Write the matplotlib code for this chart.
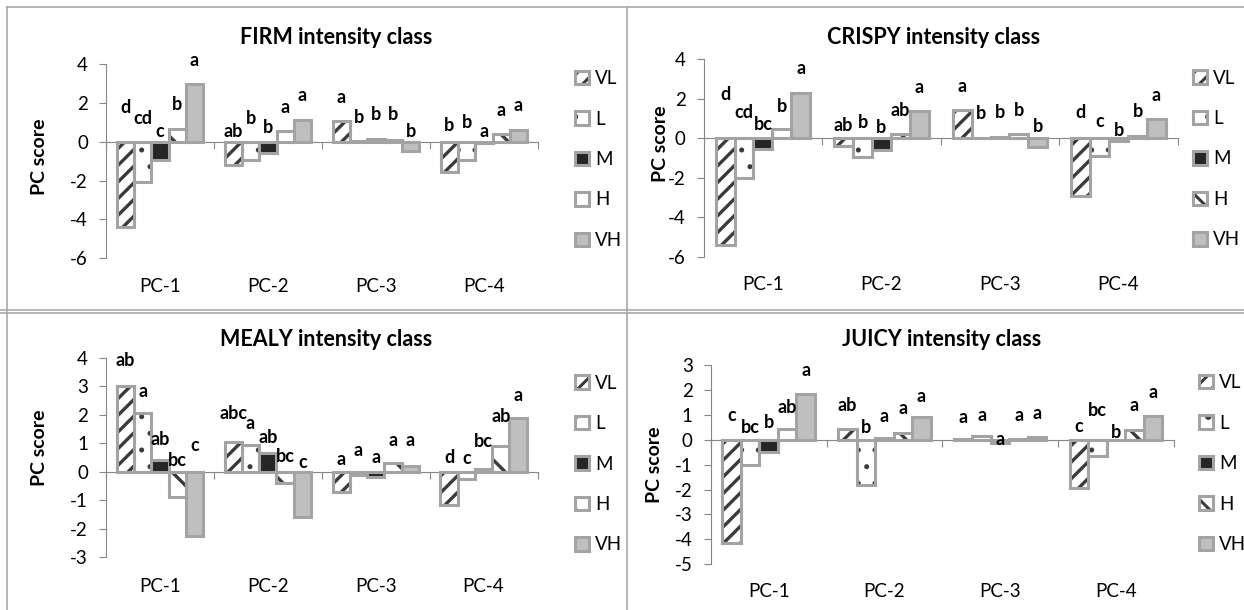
import numpy as np
import matplotlib.pyplot as plt
from matplotlib.patches import Patch
from matplotlib.lines import Line2D
from matplotlib.legend_handler import HandlerTuple

plt.rcParams['font.family'] = ['Lato', 'DejaVu Sans']
plt.rcParams['hatch.linewidth'] = 2.2

# categories and classes
components = ['PC-1', 'PC-2', 'PC-3', 'PC-4']
classes = ['VL', 'L', 'M', 'H', 'VH']

# PC scores, one row per intensity class (VL, L, M, H, VH)
firm_scores = [
    [-4.4, -1.2, 1.05, -1.55],
    [-2.05, -0.95, 0.04, -0.95],
    [-0.95, -0.6, 0.12, -0.05],
    [0.65, 0.55, 0.08, 0.42],
    [2.95, 1.12, -0.5, 0.62],
]
crispy_scores = [
    [-5.4, -0.4, 1.45, -2.95],
    [-2.0, -0.95, 0.03, -0.9],
    [-0.55, -0.6, 0.08, -0.12],
    [0.45, 0.22, 0.2, 0.12],
    [2.3, 1.38, -0.45, 1.0],
]
mealy_scores = [
    [3.0, 1.05, -0.7, -1.15],
    [2.05, 0.95, -0.12, -0.25],
    [0.42, 0.65, -0.2, 0.1],
    [-0.9, -0.4, 0.3, 0.9],
    [-2.25, -1.6, 0.2, 1.88],
]
juicy_scores = [
    [-4.15, 0.42, 0.03, -1.95],
    [-1.02, -1.82, 0.15, -0.65],
    [-0.5, 0.08, -0.15, -0.03],
    [0.45, 0.27, 0.04, 0.4],
    [1.85, 0.9, 0.12, 0.95],
]

# significance letters (rows = class, cols = component)
firm_letters = [['d', 'ab', 'a', 'b'], ['cd', 'b', 'b', 'b'], ['c', 'b', 'b', 'a'],
                ['b', 'a', 'b', 'a'], ['a', 'a', 'b', 'a']]
crispy_letters = [['d', 'ab', 'a', 'd'], ['cd', 'b', 'b', 'c'], ['bc', 'b', 'b', 'b'],
                  ['b', 'ab', 'b', 'b'], ['a', 'a', 'b', 'a']]
mealy_letters = [['ab', 'abc', 'a', 'd'], ['a', 'a', 'a', 'c'], ['ab', 'ab', 'a', 'bc'],
                 ['bc', 'bc', 'a', 'ab'], ['c', 'c', 'a', 'a']]
juicy_letters = [['c', 'ab', 'a', 'c'], ['bc', 'b', 'a', 'bc'], ['b', 'a', 'a', 'b'],
                 ['ab', 'a', 'a', 'a'], ['a', 'a', 'a', 'a']]

# height (in score units) where each letter was placed
firm_letter_y = [[1.75, 0.55, 2.27, 0.81], [1.17, 1.17, 1.24, 0.98], [0.55, 0.72, 1.41, 0.52],
                 [1.9, 1.75, 1.38, 1.63], [4.16, 2.36, 0.55, 1.84]]
crispy_letter_y = [[2.23, 0.64, 2.62, 1.32], [1.32, 0.81, 1.27, 0.84], [0.71, 0.54, 1.32, 0.39],
                   [1.6, 1.43, 1.43, 1.38], [3.51, 2.56, 0.62, 2.19]]
mealy_letter_y = [[3.9, 2.05, 0.43, 0.49], [2.83, 1.7, 0.74, 0.47], [1.14, 1.21, 0.49, 1.05],
                  [0.41, 0.55, 1.11, 1.93], [0.91, 0.32, 1.08, 2.69]]
juicy_letter_y = [[0.98, 1.38, 0.91, 0.53], [0.51, 0.51, 0.98, 1.18], [0.71, 0.94, 0.0, 0.31],
                  [1.29, 1.24, 0.98, 1.38], [2.76, 1.74, 1.07, 1.91]]

W, H = 1244, 610
edge_grey = '#A3A3A3'
axis_grey = '#868686'
fills = ['white', 'white', '#262626', 'white', '#BFBFBF']
hatches = ['//', '.', None, '\\', None]
hatch_lw = [2.4, 1.2, 1.0, 2.4, 1.0]
bw = 0.16

fig = plt.figure(figsize=(W / 100, H / 100), dpi=100)


def px_box(x0, x1, ytop, ybot):
    return [x0 / W, 1 - ybot / H, (x1 - x0) / W, (ybot - ytop) / H]


def hatched(patch, i):
    if hasattr(patch, 'set_hatch_linewidth'):
        patch.set_hatch_linewidth(hatch_lw[i])


def draw_panel(box, title, title_xy, ylab_xy, scores, letters, letter_y,
               ylim, ystep, cat_off, leg_xy):
    ax = fig.add_axes(px_box(*box))
    x = np.arange(len(components))
    handles = []
    for i, cls in enumerate(classes):
        xs = x + (i - 2) * bw
        with plt.rc_context({'hatch.linewidth': hatch_lw[i]}):
            h1 = ax.bar(xs, scores[i], width=bw, color=fills[i], hatch=hatches[i],
                        edgecolor='#3A3A3A', linewidth=0, zorder=2)
        for p in h1:
            hatched(p, i)
        ax.bar(xs, scores[i], width=bw, fill=False, edgecolor=edge_grey,
               linewidth=2.2, zorder=3)
        with plt.rc_context({'hatch.linewidth': hatch_lw[i]}):
            hp = Patch(facecolor=fills[i], edgecolor='#3A3A3A', hatch=hatches[i], lw=0)
        hatched(hp, i)
        ho = Patch(facecolor='none', edgecolor=edge_grey, lw=2.2)
        handles.append((hp, ho))
        for j in range(len(components)):
            ax.text(xs[j], letter_y[i][j], letters[i][j], ha='center', va='center',
                    fontsize=13, fontweight='bold', zorder=5)

    ax.set_xlim(-0.5, 3.5)
    ax.set_ylim(*ylim)
    ticks = np.arange(ylim[0], ylim[1] + 0.1, ystep)
    ax.set_yticks(ticks)
    ax.set_yticklabels([str(int(v)) for v in ticks])
    ax.set_xticks(np.arange(-0.5, 3.6, 1))
    ax.set_xticklabels([])
    for s in ['top', 'right']:
        ax.spines[s].set_visible(False)
    ax.spines['bottom'].set_position(('data', 0))
    ax.spines['bottom'].set_color(axis_grey)
    ax.spines['left'].set_color(axis_grey)
    ax.tick_params(axis='both', colors=axis_grey, length=5, width=0.8, direction='out')
    ax.tick_params(axis='y', labelcolor='black', labelsize=13.5, pad=8)
    ax.patch.set_alpha(0)

    for j, name in enumerate(components):
        ax.annotate(name, xy=(j, 0), xycoords=('data', 'axes fraction'),
                    xytext=(0, -cat_off * 0.72), textcoords='offset points',
                    ha='center', va='center', fontsize=13.5)

    fig.text(title_xy[0] / W, 1 - title_xy[1] / H, title, ha='center', va='center',
             fontsize=15.5, fontweight='bold')
    fig.text(ylab_xy[0] / W, 1 - ylab_xy[1] / H, 'PC score', ha='center', va='center',
             rotation=90, fontsize=14, fontweight='bold')

    ax.legend(handles, classes, handler_map={tuple: HandlerTuple(ndivide=1)},
              loc='center left', bbox_to_anchor=(leg_xy[0] / W, 1 - leg_xy[1] / H),
              bbox_transform=fig.transFigure, frameon=False, borderpad=0,
              borderaxespad=0, handlelength=0.72, handleheight=0.72,
              handletextpad=0.35, labelspacing=1.25, fontsize=13.5)
    return ax


draw_panel((106, 538, 64, 258.3), 'FIRM intensity class', (336, 37), (39.5, 157),
           firm_scores, firm_letters, firm_letter_y, (-6, 4), 2, 28, (575, 159.5))
draw_panel((703.7, 1177.8, 59.3, 256.7), 'CRISPY intensity class', (934, 37), (660, 144),
           crispy_scores, crispy_letters, crispy_letter_y, (-6, 4), 2, 28, (1193, 159))
draw_panel((106, 537.5, 357.7, 557.3), 'MEALY intensity class', (326.6, 339), (39.5, 448),
           mealy_scores, mealy_letters, mealy_letter_y, (-3, 4), 1, 29, (575, 464))
draw_panel((710.8, 1173.8, 365, 564.3), 'JUICY intensity class', (941.7, 339), (654, 465),
           juicy_scores, juicy_letters, juicy_letter_y, (-5, 3), 1, 27, (1199, 463.6))

# panel frames
frame_kw = dict(transform=fig.transFigure, color='#A8A8A8', lw=1.2)
fig.add_artist(Line2D([7 / W, 1], [1 - 7 / H, 1 - 7 / H], **frame_kw))
fig.add_artist(Line2D([7 / W, 7 / W], [0, 1 - 7 / H], **frame_kw))
fig.add_artist(Line2D([627 / W, 627 / W], [0, 1 - 7 / H], **frame_kw))
fig.add_artist(Line2D([0, 1], [1 - 310 / H, 1 - 310 / H], **frame_kw))
fig.add_artist(Line2D([0, 1], [1 - 312.5 / H, 1 - 312.5 / H], **frame_kw))

fig.savefig('out.png', dpi=100)
